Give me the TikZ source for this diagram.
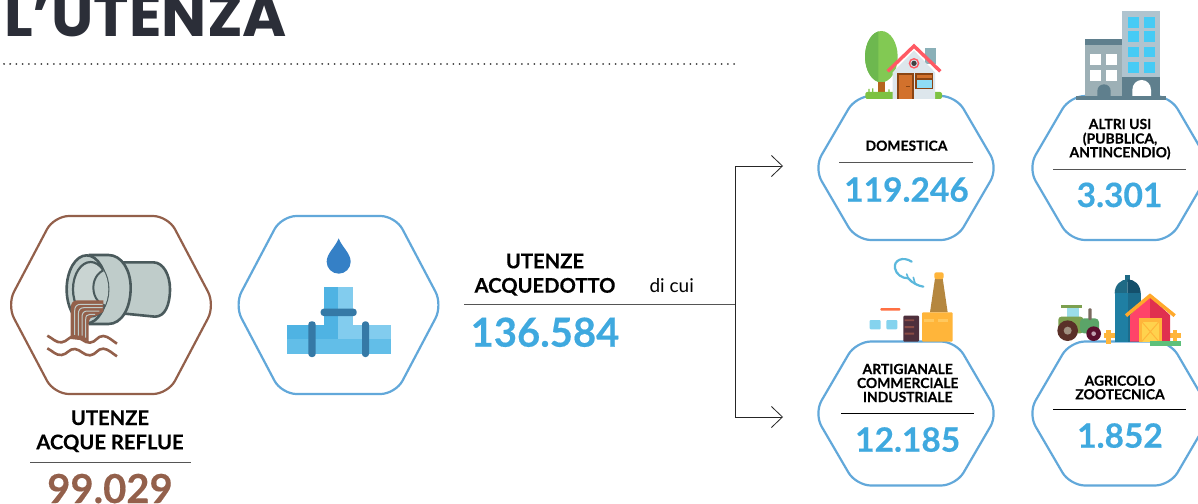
\documentclass[tikz,border=0pt]{standalone}
\usepackage{fontspec}
\usetikzlibrary{arrows.meta}
\setmainfont{Lato}[BoldFeatures={FakeBold=0.35}]
\newfontfamily\titlefont{Poppins}
\definecolor{hexblue}{HTML}{62A8DA}
\definecolor{hexbrown}{HTML}{93604B}
\definecolor{numblue}{HTML}{3FA9DF}
\definecolor{titlegray}{HTML}{2B2E38}
\definecolor{rulegray}{HTML}{555555}
\definecolor{pipeD}{HTML}{4A5A5C}\definecolor{pipeL}{HTML}{BFCCCA}
\definecolor{wDark}{HTML}{3579A6}\definecolor{wMid}{HTML}{4FB3E3}\definecolor{wLight}{HTML}{82CCEE}\definecolor{wLow}{HTML}{62BEE8}\definecolor{wDrop}{HTML}{3580C6}
\definecolor{grassG}{HTML}{7DC242}\definecolor{treeA}{HTML}{6DB84F}\definecolor{treeB}{HTML}{82C953}\definecolor{trunk}{HTML}{B5651D}
\definecolor{roofR}{HTML}{FF5A64}\definecolor{houseW}{HTML}{DDE6EC}\definecolor{chim}{HTML}{8AB0B8}\definecolor{doorB}{HTML}{8B4513}\definecolor{doorO}{HTML}{D2712C}\definecolor{winB}{HTML}{8FDDF5}
\definecolor{bLight}{HTML}{B0C4CF}\definecolor{bMid}{HTML}{9DB0B6}\definecolor{bDark}{HTML}{5F7F8D}\definecolor{bWin}{HTML}{45CBF5}
\definecolor{smoke}{HTML}{5BB8DC}\definecolor{chimF}{HTML}{B5873F}\definecolor{fYel}{HTML}{FFB53A}\definecolor{fLite}{HTML}{FFC85E}\definecolor{fDark}{HTML}{4E2F3C}\definecolor{fBar}{HTML}{8A4B45}\definecolor{fSky}{HTML}{85D3EE}\definecolor{fOr}{HTML}{FF7043}
\definecolor{siloA}{HTML}{1F7FA3}\definecolor{siloB}{HTML}{1C6C8C}\definecolor{domeA}{HTML}{1F6A85}\definecolor{domeB}{HTML}{144F6B}\definecolor{barnA}{HTML}{FF4369}\definecolor{barnB}{HTML}{E0304F}\definecolor{barnR}{HTML}{FFA92B}\definecolor{barnX}{HTML}{FFD24D}\definecolor{grassF}{HTML}{5DC07A}
\definecolor{trA}{HTML}{7CA04F}\definecolor{trB}{HTML}{5BA468}\definecolor{trW}{HTML}{9BDDE8}\definecolor{trE}{HTML}{7A6A60}\definecolor{wheelA}{HTML}{5A3028}\definecolor{hubA}{HTML}{A09080}\definecolor{wheelB}{HTML}{5A0F2E}\definecolor{hubB}{HTML}{C0A0B0}
\tikzset{
  x=1pt,y=-1pt,
  hexline/.style={line width=2.2pt,rounded corners=15pt,fill=white},
  lab/.style={inner sep=0pt,anchor=base,align=center,font=\bfseries\fontsize{#1}{#1}\selectfont,text=black},
  num/.style={inner sep=0pt,anchor=base,font=\bfseries\fontsize{#1}{#1}\selectfont,text=numblue},
  seprule/.style={line width=0.9pt,draw=rulegray},
  conn/.style={line width=0.8pt,draw=black!85},
  barb/.style={-{Straight Barb[length=11pt,width=21pt,line width=0.8pt]}},
  icon/.style={shift={#1},scale=0.33333},
}
\newcommand{\hexa}[6]{% cx cy hw hh tw colour
  \draw[hexline,draw=#6] (#1-#3,#2) -- (#1-#5,#2-#4) -- (#1+#5,#2-#4) -- (#1+#3,#2) -- (#1+#5,#2+#4) -- (#1-#5,#2+#4) -- cycle;
}
\begin{document}
\begin{tikzpicture}
\useasboundingbox (0,0) rectangle (1198,503);
\clip (0,0) rectangle (1198,503);
\fill[white] (0,0) rectangle (1198,503);

% title
\node[inner sep=0pt,anchor=base west,text=titlegray,font=\titlefont\bfseries\fontsize{60}{60}\selectfont] (title) at (4,36.5) {L’UTENZA};
\coordinate (dotA) at (4,63.5);
\coordinate (dotB) at (735,63.5);
\draw[line width=2pt,draw=black!75,line cap=round,dash pattern=on 0.01pt off 6.23pt] (dotA) -- (dotB);

% hexagons
\hexa{111}{305}{104}{89}{57}{hexbrown}
\hexa{338.5}{305}{104}{89}{57}{hexblue}
\hexa{906}{168}{92}{72}{50}{hexblue}
\hexa{1120}{168}{92}{72}{50}{hexblue}
\hexa{906}{413.5}{92}{72}{50}{hexblue}
\hexa{1120}{413.5}{92}{72}{50}{hexblue}

% connectors
\coordinate (lineStart) at (464,304);
\coordinate (branch) at (735,304);
\coordinate (upBend) at (735,166);
\coordinate (downBend) at (735,417);
\coordinate (upEnd) at (783,166);
\coordinate (downEnd) at (783,417);
\draw[line width=1pt,draw=rulegray] (lineStart) -- (branch);
\draw[conn,barb] (branch) -- (upBend) -- (upEnd);
\draw[conn,barb] (branch) -- (downBend) -- (downEnd);

% separators
\coordinate (s1a) at (30,462); \coordinate (s1b) at (191,462);
\coordinate (s2a) at (839,162.7); \coordinate (s2b) at (973,162.7);
\coordinate (s3a) at (1053,169); \coordinate (s3b) at (1186,169);
\coordinate (s4a) at (841,413.3); \coordinate (s4b) at (974,413.3);
\coordinate (s5a) at (1053,409); \coordinate (s5b) at (1186,409);
\draw[seprule] (s1a) -- (s1b);
\draw[seprule] (s2a) -- (s2b);
\draw[seprule] (s3a) -- (s3b);
\draw[seprule,draw=black] (s4a) -- (s4b);
\draw[seprule,draw=black] (s5a) -- (s5b);

% texts
\node[lab=20.2] (t1) at (110,425) {UTENZE};
\node[lab=20.2] (t2) at (110,449.3) {ACQUE REFLUE};
\node[num=40,text=hexbrown] (n1) at (110,503) {99.029};
\node[lab=20.2] (t3) at (545,268.3) {UTENZE};
\node[lab=20.2] (t4) at (545,292.7) {ACQUEDOTTO};
\node[inner sep=0pt,anchor=base,font=\fontsize{19}{19}\selectfont] (dicui) at (671.7,292.7) {di cui};
\node[num=40] (n2) at (545,346.7) {136.584};
\node[lab=13.9] (t5) at (906.5,150.7) {DOMESTICA};
\node[num=33.5] (n3) at (906.5,201.7) {119.246};
\node[lab=13.9] (t6) at (1120,129) {ALTRI USI};
\node[lab=13.9] (t7) at (1120,143.5) {(PUBBLICA,};
\node[lab=13.9] (t8) at (1120,157.3) {ANTINCENDIO)};
\node[num=33.5] (n4) at (1119.5,207) {3.301};
\node[lab=13.9] (t9) at (907.7,374) {ARTIGIANALE};
\node[lab=13.9] (t10) at (907.7,388) {COMMERCIALE};
\node[lab=13.9] (t11) at (907.7,402) {INDUSTRIALE};
\node[num=33.5] (n5) at (907.7,451.7) {12.185};
\node[lab=13.9] (t12) at (1120,385.7) {AGRICOLO};
\node[lab=13.9] (t13) at (1120,399.3) {ZOOTECNICA};
\node[num=33.5] (n6) at (1120,447.7) {1.852};

% ---- sewer pipe icon
\begin{scope}[icon={(40,245)}]
\draw[line width=2.6pt,draw=pipeD,fill=pipeL] (245,52) -- (340,52) .. controls (370,52) and (390,90) .. (390,132) .. controls (390,180) and (375,215) .. (345,215) -- (245,205) -- cycle;
\draw[line width=2.6pt,draw=pipeD,fill=pipeL] (150,30) -- (205,30) .. controls (245,30) and (272,75) .. (272,128) .. controls (272,190) and (245,237) .. (205,237) -- (150,237) -- cycle;
\draw[line width=2.6pt,draw=pipeD,fill=pipeL] (140,133) ellipse [x radius=60,y radius=102];
\draw[line width=2.2pt,draw=pipeD,fill=pipeL!85!white] (152,133) ellipse [x radius=53,y radius=82];
\begin{scope}
\clip (152,133) ellipse [x radius=53,y radius=82];
\draw[line width=2pt,draw=pipeD,fill=pipeL] (205,128) ellipse [x radius=45,y radius=55];
\end{scope}
\fill[hexbrown] (190,166) -- (112,166) .. controls (98,166) and (92,175) .. (92,192) -- (92,282) -- (146,288) -- (146,235) .. controls (146,222) and (155,212) .. (170,212) -- (190,200) -- cycle;
\draw[line width=1pt,draw=pipeL] (188,178) -- (122,178) .. controls (110,178) and (104,185) .. (104,198) -- (104,272);
\draw[line width=1pt,draw=pipeL] (188,188) -- (132,188) .. controls (120,188) and (115,195) .. (115,208) -- (115,272);
\draw[line width=1pt,draw=pipeL] (178,198) -- (142,198) .. controls (131,198) and (126,205) .. (126,216) -- (126,272);
\draw[line width=1pt,draw=pipeL] (165,208) -- (150,208) .. controls (141,208) and (137,213) .. (137,224) -- (137,278);
\foreach \yy in {272,310}
  \draw[line width=2.6pt,draw=hexbrown] (22,\yy) .. controls (38,\yy+8) and (48,\yy+22) .. (65,\yy+20) .. controls (82,\yy+18) and (88,\yy) .. (105,\yy+2) .. controls (122,\yy+4) and (132,\yy+22) .. (150,\yy+21) .. controls (168,\yy+20) and (172,\yy) .. (190,\yy+1) .. controls (205,\yy+2) and (218,\yy+16) .. (231,\yy+24);
\end{scope}

% ---- water pipe icon
\begin{scope}[icon={(230,200)}]
\fill[wDrop] (326,115) .. controls (335,140) and (362,160) .. (362,185) .. controls (362,205) and (346,221) .. (326,221) .. controls (306,221) and (290,205) .. (290,185) .. controls (290,160) and (317,140) .. (326,115) -- cycle;
\fill[wMid] (282,261) rectangle (324,375);
\fill[wLight] (324,261) rectangle (369,375);
\fill[wMid] (171,375) rectangle (324,418);
\fill[wLight] (324,375) rectangle (483,418);
\fill[wLow] (171,418) rectangle (483,461);
\fill[white] (257,375) .. controls (275,375) and (282,368) .. (282,350) -- (257,350) -- cycle;
\fill[white] (396,375) .. controls (378,375) and (369,368) .. (369,350) -- (396,350) -- cycle;
\fill[wDark,rounded corners=3pt] (272,326) rectangle (380,348);
\fill[wDark,rounded corners=3pt] (235,364) rectangle (257,471);
\fill[wDark,rounded corners=3pt] (396,364) rectangle (417,471);
\end{scope}

% ---- house icon
\begin{scope}[icon={(810,20)}]
\fill[treeB] (214,110) ellipse [x radius=49,y radius=77];
\begin{scope}
\clip (165,30) rectangle (205,190);
\fill[treeA] (214,110) ellipse [x radius=49,y radius=77];
\end{scope}
\fill[trunk] (204,185) rectangle (226,217);
\fill[grassG,rounded corners=2pt] (166,216) rectangle (260,237);
\fill[grassG,rounded corners=2pt] (318,216) rectangle (396,237);
\fill[grassG] (175,216) rectangle (179,207) (186,216) rectangle (190,205) (235,216) rectangle (239,208);
\fill[chim] (345,85) rectangle (377,132);
\fill[houseW] (248,157) -- (312,92) -- (375,157) -- (375,237) -- (248,237) -- cycle;
\draw[line width=3.4pt,draw=roofR] (233,154) -- (312,78) -- (391,154);
\fill[roofR] (312,130) circle[radius=16];
\fill[houseW] (312,130) circle[radius=11];
\fill[black!75] (312,130) circle[radius=8];
\fill[doorB] (261,160) rectangle (311,237);
\fill[doorO] (266,165) rectangle (306,237);
\fill[doorB] (288,197) rectangle (300,201);
\fill[doorB] (316,160) rectangle (370,208);
\fill[doorO] (321,165) rectangle (365,175);
\fill[winB] (321,180) rectangle (365,203);
\end{scope}

% ---- buildings icon
\begin{scope}[icon={(1020,0)}]
\fill[bLight] (306,33) rectangle (420,232);
\foreach \yy/\zz in {51/83,93/125,140/172,186/219} {
  \fill[bWin] (324,\yy) rectangle (357,\zz);
  \fill[bWin] (372,\yy) rectangle (405,\zz);
}
\fill[bDark] (306,232) rectangle (420,290);
\fill[white] (337,290) -- (337,270) .. controls (337,252) and (350,240) .. (365,240) .. controls (380,240) and (393,252) .. (393,270) -- (393,290) -- cycle;
\fill[bMid] (195,117) rectangle (306,290);
\fill[bDark] (195,117) rectangle (306,135);
\foreach \yy/\zz in {162/195,209/242} {
  \fill[white] (210,\yy) rectangle (243,\zz);
  \fill[white] (258,\yy) rectangle (291,\zz);
}
\fill[bDark] (232,290) -- (232,273) .. controls (232,261) and (241,253) .. (252,253) .. controls (263,253) and (272,261) .. (272,273) -- (272,290) -- cycle;
\fill[bDark] (168,288) rectangle (438,300);
\end{scope}

% ---- factory icon
\begin{scope}[icon={(810,250)}]
\draw[line width=2.2pt,draw=smoke,line cap=round] (305,35) .. controls (280,18) and (250,30) .. (255,55) .. controls (258,72) and (275,85) .. (295,85) .. controls (305,98) and (325,108) .. (340,110);
\draw[line width=1.6pt,draw=smoke,line cap=round] (295,85) -- (290,72) (315,100) -- (310,82);
\fill[chimF] (375,85) -- (398,85) -- (413,187) -- (360,187) -- cycle;
\fill[fYel,rounded corners=2pt] (373,67) rectangle (401,87);
\fill[fYel,rounded corners=1pt] (336,187) rectangle (428,275);
\fill[fLite] (342,206) rectangle (372,215);
\fill[fLite] (383,206) rectangle (413,215);
\fill[fDark,rounded corners=1pt] (280,197) rectangle (327,275);
\fill[fBar] (284,208) rectangle (312,213) (284,228) rectangle (312,234) (284,248) rectangle (312,254);
\fill[fSky,rounded corners=1pt] (179,210) rectangle (212,238);
\fill[fSky,rounded corners=1pt] (229,210) rectangle (262,238);
\fill[fOr,rounded corners=1pt] (211,174) rectangle (271,182);
\end{scope}

% ---- farm icon
\begin{scope}[icon={(1020,265)}]
\fill[domeA] (315,30) rectangle (330,50);
\fill[domeA] (284,85) .. controls (284,60) and (302,43) .. (323,43) -- (323,85) -- cycle;
\fill[domeB] (362,85) .. controls (362,60) and (344,43) .. (323,43) -- (323,85) -- cycle;
\fill[siloA] (284,85) rectangle (323,230);
\fill[siloB] (323,85) rectangle (362,230);
\fill[fYel] (258,195) rectangle (272,236);
\fill[fYel] (252,205) rectangle (285,218);
\fill[fYel] (458,195) rectangle (472,236);
\fill[fYel] (450,205) rectangle (483,218);
\fill[barnA] (330,150) -- (390,95) -- (390,230) -- (330,230) -- cycle;
\fill[barnB] (390,95) -- (450,150) -- (450,230) -- (390,230) -- cycle;
\draw[line width=3.5pt,draw=barnR] (318,152) -- (390,92) -- (464,152);
\fill[fYel] (357,160) rectangle (425,230);
\fill[barnX] (365,170) rectangle (417,230);
\draw[line width=1pt,draw=fYel] (365,170) -- (417,230) (417,170) -- (365,230);
\fill[grassF] (390,228) rectangle (483,243);
\fill[trA] (123,120) rectangle (186,128);
\fill[trW] (140,128) rectangle (177,157);
\fill[trA,rounded corners=3pt] (115,155) rectangle (190,205);
\fill[trB,rounded corners=4pt] (180,160) rectangle (237,205);
\fill[trE,rounded corners=1pt] (205,130) rectangle (215,165);
\fill[wheelA] (143,197) circle[radius=31];
\fill[hubA] (143,197) circle[radius=12];
\fill[wheelB] (221,206) circle[radius=22];
\fill[hubB] (221,206) circle[radius=7];
\end{scope}
\end{tikzpicture}
\end{document}
